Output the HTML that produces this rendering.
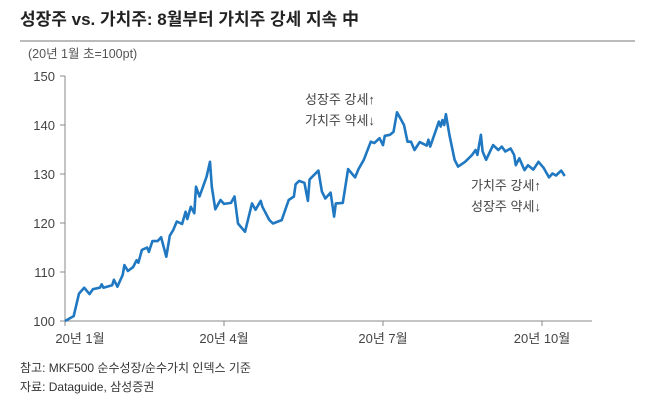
<!DOCTYPE html>
<html><head><meta charset="utf-8"><style>
body{margin:0;background:#fff;width:670px;height:401px;overflow:hidden;font-family:"Liberation Sans","Noto Sans CJK KR",sans-serif}
svg text{font-family:"Liberation Sans","Noto Sans CJK KR",sans-serif}
</style></head><body>
<svg width="670" height="401">
<text x="20" y="25" font-size="17" font-weight="bold" fill="#222">성장주 vs. 가치주: 8월부터 가치주 강세 지속 中</text>
<line x1="20" y1="41" x2="635" y2="41" stroke="#777" stroke-width="1"/>
<text x="28" y="58" font-size="12.5" fill="#555">(20년 1월 초=100pt)</text>
<g id="axes"></g>
<polyline id="line" fill="none" stroke="#1f78c1" stroke-width="2.6" stroke-linejoin="round"/>
<text x="305" y="104" font-size="13" fill="#444">성장주 강세↑</text>
<text x="305" y="125" font-size="13" fill="#444">가치주 약세↓</text>
<text x="471" y="190" font-size="13" fill="#444">가치주 강세↑</text>
<text x="471" y="211" font-size="13" fill="#444">성장주 약세↓</text>
<text x="20" y="372" font-size="12" fill="#333">참고: MKF500 순수성장/순수가치 인덱스 기준</text>
<text x="20" y="391" font-size="12" fill="#333">자료: Dataguide, 삼성증권</text>
</svg>
<script>
const days=[0,5,8,11,14,16,20,21,22,27,28,30,33,34,36,39,41,42,44,47,48,50,53,55,58,60,62,64,67,69,70,72,74,75,77,79,81,83,84,86,89,91,95,97,99,103,107,109,112,113,117,119,124,128,131,132,134,137,139,140,145,147,149,152,154,155,159,162,166,168,171,175,177,180,182,183,186,188,190,194,196,198,200,203,207,208,209,214,215,216,217,218,220,223,225,229,233,235,236,238,239,241,245,248,250,252,255,257,258,260,263,265,268,271,274,277,279,281,284,286];
const values=[100,101,105.6,106.8,105.5,106.5,106.8,107.5,106.8,107.3,108.4,107,109.4,111.4,110.2,111,112.4,111.9,114.5,115,114.1,116.3,116.3,117.1,113.1,117.4,118.6,120.3,119.8,122.3,120.8,123.3,122,127.4,125.4,127.4,129.4,132.5,127.4,122.8,124.7,123.9,124.1,125.4,119.9,118.2,124,122.7,124.5,123.3,120.6,119.9,120.6,124.7,125.4,127.9,128.6,128.2,124.5,128.9,130.7,126.4,125,126.2,121.3,124,124.1,131,129.3,131,132.9,136.6,136.3,137.3,135.9,137.8,138,138.6,142.6,140,136.6,136.6,134.9,136.5,135.8,137,135.6,140.7,139.7,141,140,142.2,138,132.9,131.5,132.5,133.9,134.9,133.9,138,134.6,132.9,135.9,134.9,135.6,134.6,135.2,133.9,131.8,133.2,130.8,131.8,130.9,132.5,131.2,129.3,130.1,129.7,130.7,129.6];
const yTicks=[100,110,120,130,140,150];
const xTickDays=[0,91,182,273];
const xTickLabels=["20년 1월","20년 4월","20년 7월","20년 10월"];
const X=d=>65+d*1.7473, Y=v=>321-(v-100)*4.9;
const NS="http://www.w3.org/2000/svg", g=document.getElementById('axes');
function mk(t,a){const e=document.createElementNS(NS,t);for(const k in a)e.setAttribute(k,a[k]);g.appendChild(e);return e;}
let e=mk('line',{x1:65,y1:76,x2:65,y2:321,stroke:'#888'});


e=mk('line',{x1:65,y1:321,x2:592,y2:321,stroke:'#888'});


yTicks.forEach(v=>{
 let t=mk('line',{x1:60,y1:Y(v),x2:65,y2:Y(v),stroke:'#888'});
 
 
 let l=mk('text',{x:55,y:Y(v)+5,'text-anchor':'end','font-size':13,fill:'#444'});
 l.textContent=v;
 
 
});
xTickDays.forEach((d,i)=>{
 let t=mk('line',{x1:X(d),y1:321,x2:X(d),y2:326,stroke:'#888'});
 
 
 let l=mk('text',{x:X(d)+(i==0?15:0),y:343,'text-anchor':'middle','font-size':13,fill:'#444'});
 l.textContent=xTickLabels[i];
 
 
});
document.getElementById('line').setAttribute('points',days.map((d,i)=>X(d).toFixed(1)+','+Y(values[i]).toFixed(1)).join(' '));
</script>
</body></html>
